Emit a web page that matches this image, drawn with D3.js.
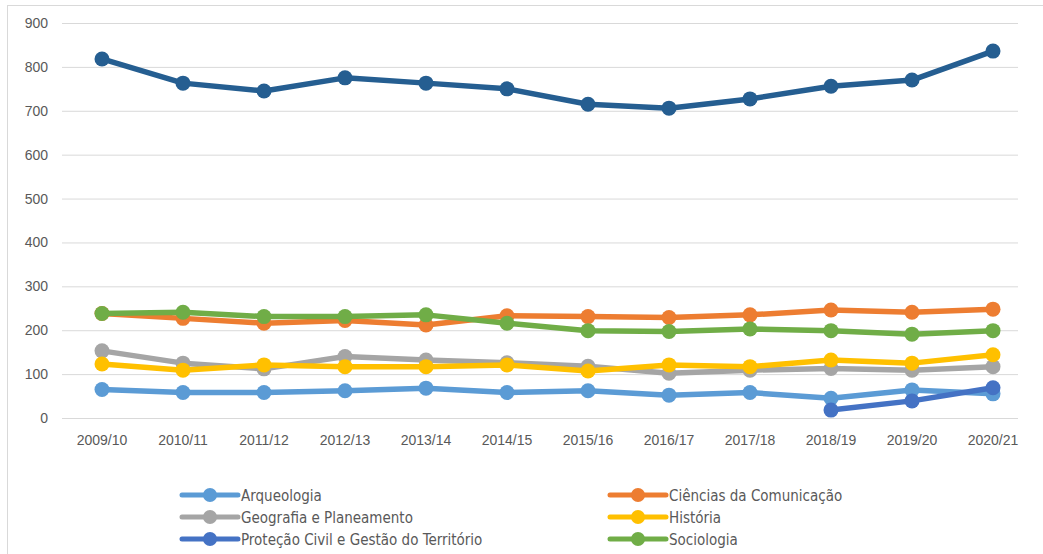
<!DOCTYPE html>
<html>
<head>
<meta charset="utf-8">
<script src="https://cdn.jsdelivr.net/npm/d3@7"></script>
<style>
  body { margin: 0; background: #fff; }
  svg { font-family: "DejaVu Sans Condensed", "Liberation Sans Narrow", sans-serif; }
</style>
</head>
<body>
<script>
var width = 1043, height = 554;

var years = ["2009/10", "2010/11", "2011/12", "2012/13", "2013/14", "2014/15",
             "2015/16", "2016/17", "2017/18", "2018/19", "2019/20", "2020/21"];
var yTicks = [0, 100, 200, 300, 400, 500, 600, 700, 800, 900];

var total        = [818, 763, 745, 775, 763, 750, 715, 706, 727, 756, 770, 836];
var arqueologia  = [65, 58, 58, 62, 68, 58, 62, 52, 58, 45, 64, 55];
var comunicacao  = [238, 227, 216, 222, 212, 233, 231, 229, 235, 246, 241, 248];
var geografia    = [153, 125, 112, 140, 132, 126, 118, 102, 109, 113, 109, 117];
var historia     = [123, 109, 121, 117, 117, 121, 107, 121, 117, 132, 125, 144];
var protecao     = [null, null, null, null, null, null, null, null, null, 18, 39, 69];
var sociologia   = [238, 241, 231, 231, 235, 216, 199, 197, 203, 199, 191, 199];

var series = [
  { name: "Total", color: "#255E91", values: total, legend: false },
  { name: "Arqueologia", color: "#5B9BD5", values: arqueologia, legend: true },
  { name: "Ciências da Comunicação", color: "#ED7D31", values: comunicacao, legend: true },
  { name: "Geografia e Planeamento", color: "#A5A5A5", values: geografia, legend: true },
  { name: "História", color: "#FFC000", values: historia, legend: true },
  { name: "Proteção Civil e Gestão do Território", color: "#4472C4", values: protecao, legend: true },
  { name: "Sociologia", color: "#70AD47", values: sociologia, legend: true }
];

// draw order: back to front as in the picture
var drawOrder = [1, 2, 3, 4, 5, 6, 0];

var svg = d3.select("body").append("svg")
  .attr("width", width)
  .attr("height", height);

svg.append("rect")
  .attr("x", 7.5).attr("y", 5.5)
  .attr("width", 1100).attr("height", 600)
  .attr("fill", "none")
  .attr("stroke", "#D9D9D9");

var x = d3.scalePoint().domain(years).range([102, 993]);
var y = d3.scaleLinear().domain([0, 900]).range([418, 23]);

// gridlines
svg.append("g").selectAll("line")
  .data(yTicks).enter().append("line")
  .attr("x1", 62).attr("x2", 1018)
  .attr("y1", function(d) { return y(d) + 0.5; })
  .attr("y2", function(d) { return y(d) + 0.5; })
  .attr("stroke", "#D9D9D9")
  .attr("stroke-width", 1);

// y labels
svg.append("g").selectAll("text")
  .data(yTicks).enter().append("text")
  .attr("x", 48)
  .attr("y", function(d) { return y(d) + 5; })
  .attr("text-anchor", "end")
  .attr("font-family", "Liberation Sans, sans-serif")
  .attr("font-size", 14)
  .attr("fill", "#595959")
  .text(function(d) { return d; });

// x labels
svg.append("g").selectAll("text")
  .data(years).enter().append("text")
  .attr("x", function(d) { return x(d); })
  .attr("y", 445)
  .attr("text-anchor", "middle")
  .attr("font-family", "Liberation Sans, sans-serif")
  .attr("font-size", 14)
  .attr("fill", "#595959")
  .text(function(d) { return d; });

var line = d3.line()
  .defined(function(d) { return d != null; })
  .x(function(d, i) { return x(years[i]); })
  .y(function(d) { return y(d); });

drawOrder.forEach(function(k) {
  var s = series[k];
  var g = svg.append("g");
  g.append("path")
    .attr("d", line(s.values))
    .attr("fill", "none")
    .attr("stroke", s.color)
    .attr("stroke-width", 5.5)
    .attr("stroke-linejoin", "round");
  g.selectAll("circle")
    .data(s.values.map(function(v, i) { return { v: v, i: i }; })
      .filter(function(d) { return d.v != null; }))
    .enter().append("circle")
    .attr("cx", function(d) { return x(years[d.i]); })
    .attr("cy", function(d) { return y(d.v); })
    .attr("r", 7.5)
    .attr("fill", s.color);
});

// legend
var legendItems = series.filter(function(s) { return s.legend; });
var legend = svg.append("g").selectAll("g")
  .data(legendItems).enter().append("g")
  .attr("transform", function(d, i) {
    var col = i % 2, row = Math.floor(i / 2);
    return "translate(" + (col === 0 ? 182 : 610) + "," + (495 + row * 22) + ")";
  });

legend.append("line")
  .attr("x1", 0).attr("x2", 56)
  .attr("stroke", function(d) { return d.color; })
  .attr("stroke-width", 5)
  .attr("stroke-linecap", "round");
legend.append("circle")
  .attr("cx", 28).attr("r", 7)
  .attr("fill", function(d) { return d.color; });
legend.append("text")
  .attr("x", 59).attr("y", 5.5)
  .attr("font-size", 15)
  .attr("fill", "#595959")
  .text(function(d) { return d.name; });
</script>
</body>
</html>
